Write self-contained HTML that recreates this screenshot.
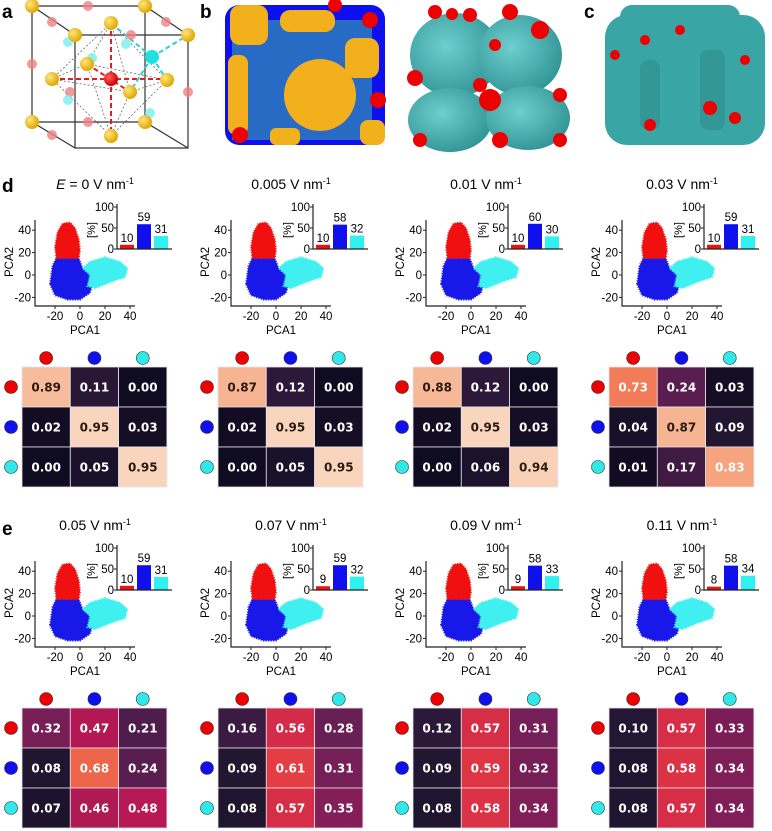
<!DOCTYPE html>
<html><head><meta charset="utf-8"><style>
html,body{margin:0;padding:0;background:#fff}
svg{display:block;font-family:"Liberation Sans",sans-serif}
</style></head><body>
<svg id="fig" width="772" height="831" viewBox="0 0 772 831" xmlns="http://www.w3.org/2000/svg">
<defs>
<radialGradient id="gy" cx="35%" cy="35%" r="65%"><stop offset="0" stop-color="#ffe680"/><stop offset="1" stop-color="#e0a800"/></radialGradient>
<radialGradient id="gr" cx="35%" cy="35%" r="65%"><stop offset="0" stop-color="#ff6060"/><stop offset="1" stop-color="#d00000"/></radialGradient>
<radialGradient id="gt" cx="40%" cy="40%" r="70%"><stop offset="0" stop-color="#6fcfcf"/><stop offset="1" stop-color="#2c8f90"/></radialGradient>
</defs>
<g id="top">
<text x="2" y="18" font-size="19" font-weight="bold">a</text>
<g stroke="#222" stroke-width="1.2" fill="none">
<path d="M32 6H145V122H32Z M75 35H188V148H75Z M32 6L75 35 M145 6L188 35 M32 122L75 148 M145 122L188 148" stroke="#333"/>
<g stroke="#555" stroke-width="0.7" stroke-dasharray="2,2"><path d="M111 23L52 79L111 136L167 80Z M111 23L87 64L52 79 M111 23L130 92L167 80 M87 64L111 136 M130 92L111 136 M87 64L167 80 M52 79L130 92"/></g>
<g stroke="#e02020" stroke-width="2" stroke-dasharray="5,3"><path d="M52 79H167 M111 23V136 M87 64L130 92"/></g>
<g stroke="#30d0d0" stroke-width="2" stroke-dasharray="5,3"><path d="M152 57L188 35 M152 57L167 80 M152 57L130 92 M152 57L111 23"/></g>
<g fill="#f08080" stroke="none" opacity="0.8"><circle cx="88" cy="6" r="5"/><circle cx="52" cy="22" r="5"/><circle cx="166" cy="22" r="5"/><circle cx="32" cy="64" r="5"/><circle cx="188" cy="92" r="5"/><circle cx="88" cy="122" r="5"/><circle cx="52" cy="135" r="5"/><circle cx="131" cy="35" r="5"/><circle cx="70" cy="92" r="5"/></g>
<g fill="#7ff0f0" stroke="none" opacity="0.85"><circle cx="68" cy="42" r="5"/><circle cx="126" cy="44" r="5"/><circle cx="92" cy="58" r="5"/><circle cx="68" cy="100" r="5"/><circle cx="150" cy="113" r="5"/></g>
<g fill="url(#gy)" stroke="none"><circle cx="32" cy="6" r="7"/><circle cx="145" cy="6" r="7"/><circle cx="75" cy="35" r="7"/><circle cx="188" cy="35" r="7"/><circle cx="32" cy="122" r="7"/><circle cx="145" cy="122" r="7"/><circle cx="111" cy="23" r="7"/><circle cx="52" cy="79" r="7"/><circle cx="167" cy="80" r="7"/><circle cx="111" cy="136" r="7"/><circle cx="87" cy="64" r="7"/><circle cx="130" cy="92" r="7"/></g>
<circle cx="111" cy="79" r="7" fill="url(#gr)" stroke="none"/><circle cx="152" cy="57" r="7" fill="#20e0e0" stroke="none"/>
</g>
<text x="200" y="18" font-size="19" font-weight="bold">b</text>
<g>
<rect x="225" y="5" width="160" height="140" rx="14" fill="#0c10ee"/>
<rect x="232" y="20" width="140" height="120" fill="#3aa8a8" opacity="0.6"/>
<circle cx="320" cy="95" r="36" fill="#f2b01c"/>
<rect x="230" y="5" width="38" height="40" rx="10" fill="#f2b01c"/><rect x="280" y="10" width="55" height="22" rx="10" fill="#f2b01c"/>
<rect x="345" y="38" width="34" height="40" rx="10" fill="#f2b01c"/><rect x="228" y="55" width="20" height="80" rx="8" fill="#f2b01c"/>
<rect x="360" y="120" width="25" height="25" rx="8" fill="#f2b01c"/><rect x="270" y="128" width="30" height="17" rx="6" fill="#f2b01c"/>
<circle cx="240" cy="135" r="8" fill="#e00"/><circle cx="335" cy="5" r="7" fill="#e00"/><circle cx="378" cy="100" r="8" fill="#e00"/><circle cx="370" cy="20" r="8" fill="#e00"/>
</g>
<g>
<ellipse cx="455" cy="55" rx="45" ry="42" fill="url(#gt)"/><ellipse cx="520" cy="55" rx="42" ry="40" fill="url(#gt)"/>
<ellipse cx="450" cy="120" rx="42" ry="32" fill="url(#gt)"/><ellipse cx="528" cy="118" rx="42" ry="32" fill="url(#gt)"/>
<g fill="#e00"><circle cx="435" cy="12" r="7"/><circle cx="452" cy="14" r="6"/><circle cx="470" cy="15" r="7"/><circle cx="510" cy="12" r="8"/><circle cx="540" cy="30" r="9"/><circle cx="495" cy="45" r="6"/><circle cx="415" cy="78" r="8"/><circle cx="490" cy="100" r="11"/><circle cx="480" cy="85" r="7"/><circle cx="560" cy="95" r="7"/><circle cx="420" cy="140" r="7"/><circle cx="500" cy="140" r="8"/><circle cx="560" cy="140" r="7"/></g>
</g>
<text x="584" y="18" font-size="19" font-weight="bold">c</text>
<g fill="#3aa5a5">
<rect x="605" y="15" width="160" height="130" rx="22"/><rect x="620" y="5" width="120" height="30" rx="12"/>
<g fill="#2d8a8a" opacity="0.5"><rect x="640" y="60" width="20" height="70" rx="8"/><rect x="700" y="50" width="25" height="80" rx="8"/></g>
<g fill="#e00"><circle cx="645" cy="40" r="5"/><circle cx="680" cy="30" r="5"/><circle cx="745" cy="60" r="5"/><circle cx="710" cy="108" r="7"/><circle cx="650" cy="125" r="6"/><circle cx="735" cy="118" r="6"/><circle cx="615" cy="55" r="5"/></g>
</g>
</g>
</svg>
<script>
const fieldTitles = ["0 V nm","0.005 V nm","0.01 V nm","0.03 V nm","0.05 V nm","0.07 V nm","0.09 V nm","0.11 V nm"];
const barRed = [10,10,10,10,10,9,9,8];
const barBlue = [59,58,60,59,59,59,58,58];
const barCyan = [31,32,30,31,31,32,33,34];
const matrices = [
 [[0.89,0.11,0.00],[0.02,0.95,0.03],[0.00,0.05,0.95]],
 [[0.87,0.12,0.00],[0.02,0.95,0.03],[0.00,0.05,0.95]],
 [[0.88,0.12,0.00],[0.02,0.95,0.03],[0.00,0.06,0.94]],
 [[0.73,0.24,0.03],[0.04,0.87,0.09],[0.01,0.17,0.83]],
 [[0.32,0.47,0.21],[0.08,0.68,0.24],[0.07,0.46,0.48]],
 [[0.16,0.56,0.28],[0.09,0.61,0.31],[0.08,0.57,0.35]],
 [[0.12,0.57,0.31],[0.09,0.59,0.32],[0.08,0.58,0.34]],
 [[0.10,0.57,0.33],[0.08,0.58,0.34],[0.08,0.57,0.34]]];
const xTicks = [-20,0,20,40];
const yTicks = [-20,0,20,40];
const barTicks = [0,50,100];
const redCloud = [[-19,15],[-20,25],[-18,38],[-14,46],[-8,47],[-4,42],[-1,32],[0,22],[-1,15]];
const blueCloud = [[-24,-8],[-22,8],[-19,15],[-1,15],[2,6],[8,0],[10,-8],[8,-16],[0,-22],[-10,-22],[-20,-18]];
const cyanCloud = [[2,6],[8,12],[20,16],[32,12],[38,6],[36,-2],[25,-6],[12,-12],[6,-10],[8,0]];
const colOffsets=[0,196,391,587];
const rowOffsets=[0,341];
const NS="http://www.w3.org/2000/svg";
const svg=document.getElementById('fig');
function el(tag,attrs,parent,txt){const e=document.createElementNS(NS,tag);for(const k in attrs)e.setAttribute(k,attrs[k]);if(txt!==undefined)e.textContent=txt;(parent||svg).appendChild(e);return e;}
const stops=[[0,[15,11,32]],[0.1,[36,23,51]],[0.2,[74,29,74]],[0.3,[112,31,87]],[0.4,[150,28,88]],[0.5,[190,24,82]],[0.6,[226,56,66]],[0.7,[240,112,76]],[0.8,[244,152,112]],[0.9,[247,192,160]],[1,[250,235,221]]];
function rocket(v){for(let i=1;i<stops.length;i++){if(v<=stops[i][0]){const a=stops[i-1],b=stops[i],t=(v-a[0])/(b[0]-a[0]);const c=a[1].map((x,j)=>Math.round(x+(b[1][j]-x)*t));return `rgb(${c})`;}}return 'rgb(250,235,221)';}
el('text',{x:2,y:192,'font-size':19,'font-weight':'bold',},svg,'d');
el('text',{x:2,y:535,'font-size':19,'font-weight':'bold',},svg,'e');
const dotCols=['#ee0000','#1010ee','#30e8e8'];
for(let p=0;p<8;p++){
 const ox=colOffsets[p%4], oy=rowOffsets[Math.floor(p/4)];
 const g=el('g',{transform:`translate(${ox},${oy})`});
 
 
 const t=el('text',{x:95,y:189,'font-size':14,'text-anchor':'middle'},g);
 
 
 if(p===0){el('tspan',{'font-style':'italic'},t,'E');el('tspan',{},t,' = ');}
 el('tspan',{},t,fieldTitles[p]);el('tspan',{dy:-5,'font-size':9},t,'-1');
 const X=v=>80+1.25*v, Y=v=>275-1.12*v;
 const sc=el('g',{},g);
 
 
 [[blueCloud,'#1818e8'],[cyanCloud,'#40f0f0'],[redCloud,'#f01010']].forEach(([pts,c])=>{
  const pa=el('path',{d:'M'+pts.map(q=>X(q[0]).toFixed(1)+' '+Y(q[1]).toFixed(1)).join('L')+'Z',fill:c,stroke:c,'stroke-width':2,'stroke-dasharray':'1,1.5'},sc);
  
  
 });
 el('path',{d:'M35 220V306H135',fill:'none',stroke:'#222','stroke-width':1.2},sc);
 xTicks.forEach(v=>{el('line',{x1:X(v),x2:X(v),y1:306,y2:309,stroke:'#222'},sc);const l=el('text',{x:X(v),y:320,'font-size':11.5,'text-anchor':'middle'},sc,v);});
 yTicks.forEach(v=>{el('line',{x1:32,x2:35,y1:Y(v),y2:Y(v),stroke:'#222'},sc);const l=el('text',{x:31,y:Y(v)+4,'font-size':11.5,'text-anchor':'end'},sc,v);});
 const xl=el('text',{x:85,y:334,'font-size':11.5,'text-anchor':'middle'},sc,'PCA1');
 const yl=el('text',{x:0,y:0,'font-size':11.5,'text-anchor':'middle',transform:'translate(13,262) rotate(-90)'},sc,'PCA2');
 const bg=el('g',{},g);
 
 
 const BY=v=>249-0.42*v;
 [[barRed[p],'#ee1111'],[barBlue[p],'#1010ee'],[barCyan[p],'#30f0f0']].forEach(([v,c],i)=>{
  const bx=120+i*17;
  const r=el('rect',{x:bx,y:BY(v),width:14,height:249-BY(v),fill:c},bg);
  const l=el('text',{x:bx+7,y:BY(v)-3,'font-size':11.5,'text-anchor':'middle'},bg,v);
 });
 el('path',{d:'M117 204V249H172',fill:'none',stroke:'#222','stroke-width':1.2},bg);
 barTicks.forEach(v=>{el('line',{x1:114,x2:117,y1:BY(v),y2:BY(v),stroke:'#222'},bg);const l=el('text',{x:114,y:BY(v)+4,'font-size':11.5,'text-anchor':'end'},bg,v);});
 const pl=el('text',{x:0,y:0,'font-size':11,'text-anchor':'middle',transform:'translate(95,230) rotate(-90)'},bg,'[%]');
 const hg=el('g',{},g);
 
 
 const m=matrices[p], cw=48.3, ch=40, hx=22, hy=367;
 for(let i=0;i<3;i++)for(let j=0;j<3;j++){
  const v=m[i][j];
  const c=el('rect',{x:hx+j*cw,y:hy+i*ch,width:cw,height:ch,fill:rocket(v),stroke:'#e8e0e8','stroke-width':0.8},hg);
  
  
  const tx=el('text',{x:hx+j*cw+cw/2,y:hy+i*ch+ch/2+4.5,'font-size':12,'font-weight':'bold','font-family':'DejaVu Sans, sans-serif','text-anchor':'middle',fill:v>=0.85?'#2a1a10':'#fff'},hg,v.toFixed(2));
  
  
 }
 for(let k=0;k<3;k++){
  const a=el('circle',{cx:hx+k*cw+cw/2,cy:358,r:6.5,fill:dotCols[k],stroke:'#333','stroke-width':0.6},hg);
  const b=el('circle',{cx:11,cy:hy+k*ch+ch/2,r:6.5,fill:dotCols[k],stroke:'#333','stroke-width':0.6},hg);
 }
}
</script>
</body></html>
